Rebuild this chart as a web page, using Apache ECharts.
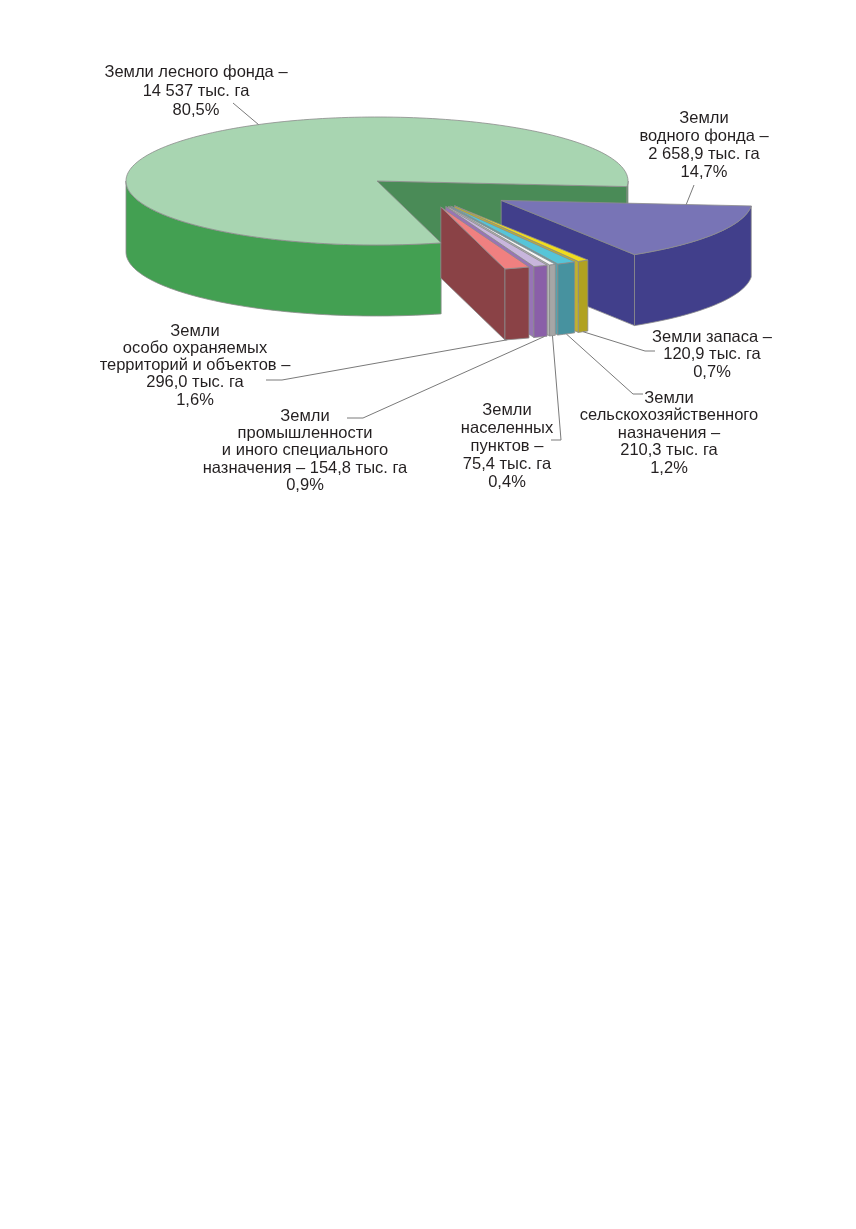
<!DOCTYPE html>
<html>
<head>
<meta charset="utf-8">
<title>Структура земельного фонда</title>
<script src="https://cdn.jsdelivr.net/npm/echarts@6.0.0/dist/echarts.min.js"></script>
<style>
  html, body { margin: 0; padding: 0; background: #fff; }
  #chart { width: 856px; height: 1229px; }
</style>
</head>
<body>
<div id="chart"></div>
<script>
// категории, по порядку против часовой стрелки от правого края
var categories = [
  'Земли лесного фонда',
  'Земли\nособо охраняемых\nтерриторий и объектов',
  'Земли\nпромышленности\nи иного специального\nназначения',
  'Земли\nнаселенных\nпунктов',
  'Земли\nсельскохозяйственного\nназначения',
  'Земли запаса',
  'Земли\nводного фонда'
];
var areaThousandHa = [14537, 296.0, 154.8, 75.4, 210.3, 120.9, 2658.9];
var areaDigits = [0, 1, 1, 1, 1, 1, 1];
var sharePercent = [80.5, 1.6, 0.9, 0.4, 1.2, 0.7, 14.7];

var topColors  = ['#a8d5b1', '#f08080', '#c8b6dc', '#f6f6f6', '#56c5d8', '#f0dc1e', '#7874b6'];
var sideColors = ['#43a052', '#8a4246', '#8a5fa8', '#a6a6a6', '#47929f', '#b1a221', '#413f8b'];
var cutColors  = ['#4a8b57', '#8a4246', '#9774b6', '#b4b4b4', '#55a3b0', '#c2b22c', '#413f8b'];
var edgeColor = '#8c8c8c';

// геометрия "объёмного" круга
var pie = { cx: 377, cy: 181, rx: 251, ry: 64, depth: 71, startAngle: -5 };
// вынос секторов: d - в долях радиуса, dir - направление (по умолчанию биссектриса)
var explode = [
  { d: 0 },
  { d: 0.48,  dir: -58 },
  { d: 0.485, dir: -55.6 },
  { d: 0.488, dir: -54.4 },
  { d: 0.491, dir: -53.2 },
  { d: 0.495, dir: -51.4 },
  { d: 0.58 }
];

// подписи: центр первой строки, межстрочный интервал, привязка выноски, изломы выноски
var labelLayout = [
  { x: 196, y: 72,  lh: 19,   at: [0.425, 1, false], path: [[233, 103]] },
  { x: 195, y: 331, lh: 17.3, at: [0.1, 1, true],  path: [[282, 380], [266, 380]] },
  { x: 305, y: 416, lh: 17.4, at: [0.8, 1, true],  path: [[363, 418], [347, 418]], inline: true },
  { x: 507, y: 410, lh: 18,   at: [0.5, 1, true],  path: [[561, 440], [551, 440]] },
  { x: 669, y: 398, lh: 17.6, at: [0.5, 1, true],  path: [[633, 394], [643, 394]] },
  { x: 712, y: 337, lh: 17.6, at: [0.5, 1, true],  path: [[645, 351], [655, 351]] },
  { x: 704, y: 118, lh: 18,   at: [1, 0.74, false], path: [[694, 185]] }
];

function fmtNum(v, digits) {
  var parts = v.toFixed(digits).split('.');
  parts[0] = parts[0].replace(/\B(?=(\d{3})+(?!\d))/g, ' ');
  return parts.join(',');
}

var total = sharePercent.reduce(function (s, v) { return s + v; }, 0);
var startAngles = [];
(function () {
  var acc = pie.startAngle;
  for (var i = 0; i < sharePercent.length; i++) {
    startAngles.push(acc);
    acc += sharePercent[i] / total * 360;
  }
})();

function renderItem(params, api) {
  var i = params.dataIndex;
  var a0 = startAngles[i];
  var a1 = a0 + api.value(1) / total * 360;
  var ex = explode[i];
  var dir = (ex.dir != null ? ex.dir : (a0 + a1) / 2) * Math.PI / 180;
  var ox = ex.d * Math.cos(dir), oy = ex.d * Math.sin(dir);

  function pt(X, Y, bottom) {
    return [pie.cx + pie.rx * (X + ox), pie.cy - pie.ry * (Y + oy) + (bottom ? pie.depth : 0)];
  }
  function rim(deg, r, bottom) {
    var t = deg * Math.PI / 180;
    return pt(r * Math.cos(t), r * Math.sin(t), bottom);
  }
  function arc(d0, d1, bottom) {
    var n = Math.max(2, Math.ceil(Math.abs(d1 - d0) / 1.5));
    var out = [];
    for (var k = 0; k <= n; k++) out.push(rim(d0 + (d1 - d0) * k / n, 1, bottom));
    return out;
  }
  function minSin(d0, d1) {
    var m = Infinity;
    for (var k = 0; k <= 40; k++) m = Math.min(m, Math.sin((d0 + (d1 - d0) * k / 40) * Math.PI / 180));
    return m;
  }
  var children = [];
  function face(points, fill, key) {
    children.push({
      type: 'polygon',
      z2: Math.round(key * 10),
      shape: { points: points },
      style: { fill: fill, stroke: edgeColor, lineWidth: 0.8, lineJoin: 'round' }
    });
  }

  // радиальные срезы
  if (Math.cos(a0 * Math.PI / 180) > 0) {
    face([pt(0, 0, false), rim(a0, 1, false), rim(a0, 1, true), pt(0, 0, true)],
      cutColors[i], 100 - 100 * (Math.min(0, Math.sin(a0 * Math.PI / 180)) + oy));
  }
  if (Math.cos(a1 * Math.PI / 180) < 0) {
    face([pt(0, 0, false), rim(a1, 1, false), rim(a1, 1, true), pt(0, 0, true)],
      cutColors[i], 100 - 100 * (Math.min(0, Math.sin(a1 * Math.PI / 180)) + oy));
  }
  // внешняя боковая стенка (только передняя половина)
  for (var k = -1; k <= 2; k++) {
    var lo = Math.max(a0, 180 + 360 * k), hi = Math.min(a1, 360 + 360 * k);
    if (hi > lo) {
      var pts = arc(lo, hi, false).concat(arc(hi, lo, true));
      face(pts, sideColors[i], 100.5 - 100 * (minSin(lo, hi) + oy));
    }
  }
  // верхняя грань
  face([pt(0, 0, false)].concat(arc(a0, a1, false)), topColors[i],
    1000 - 100 * (Math.min(0, minSin(a0, a1)) + oy));

  // подпись и выноска
  var lay = labelLayout[i];
  var start = rim(a0 + (a1 - a0) * lay.at[0], lay.at[1], lay.at[2]);
  children.push({
    type: 'polyline',
    z2: 30000,
    shape: { points: [start].concat(lay.path) },
    style: { stroke: '#7a7a7a', lineWidth: 1, fill: null }
  });
  var text = categories[i] + ' –' + (lay.inline ? ' ' : '\n') +
    fmtNum(areaThousandHa[i], areaDigits[i]) + ' тыс. га\n' +
    fmtNum(sharePercent[i], 1) + '%';
  children.push({
    type: 'text',
    z2: 30001,
    style: {
      text: text,
      x: lay.x,
      y: lay.y - lay.lh / 2,
      align: 'center',
      verticalAlign: 'top',
      lineHeight: lay.lh,
      fontSize: 16.5,
      fontFamily: '"Liberation Sans", Arial, sans-serif',
      fill: '#231f20'
    }
  });

  return { type: 'group', children: children };
}

var chart = echarts.init(document.getElementById('chart'), null, { renderer: 'canvas' });
chart.setOption({
  backgroundColor: '#ffffff',
  animation: false,
  series: [{
    type: 'custom',
    coordinateSystem: 'none',
    silent: true,
    renderItem: renderItem,
    data: sharePercent.map(function (v, i) { return [i, v]; })
  }]
});
</script>
</body>
</html>
